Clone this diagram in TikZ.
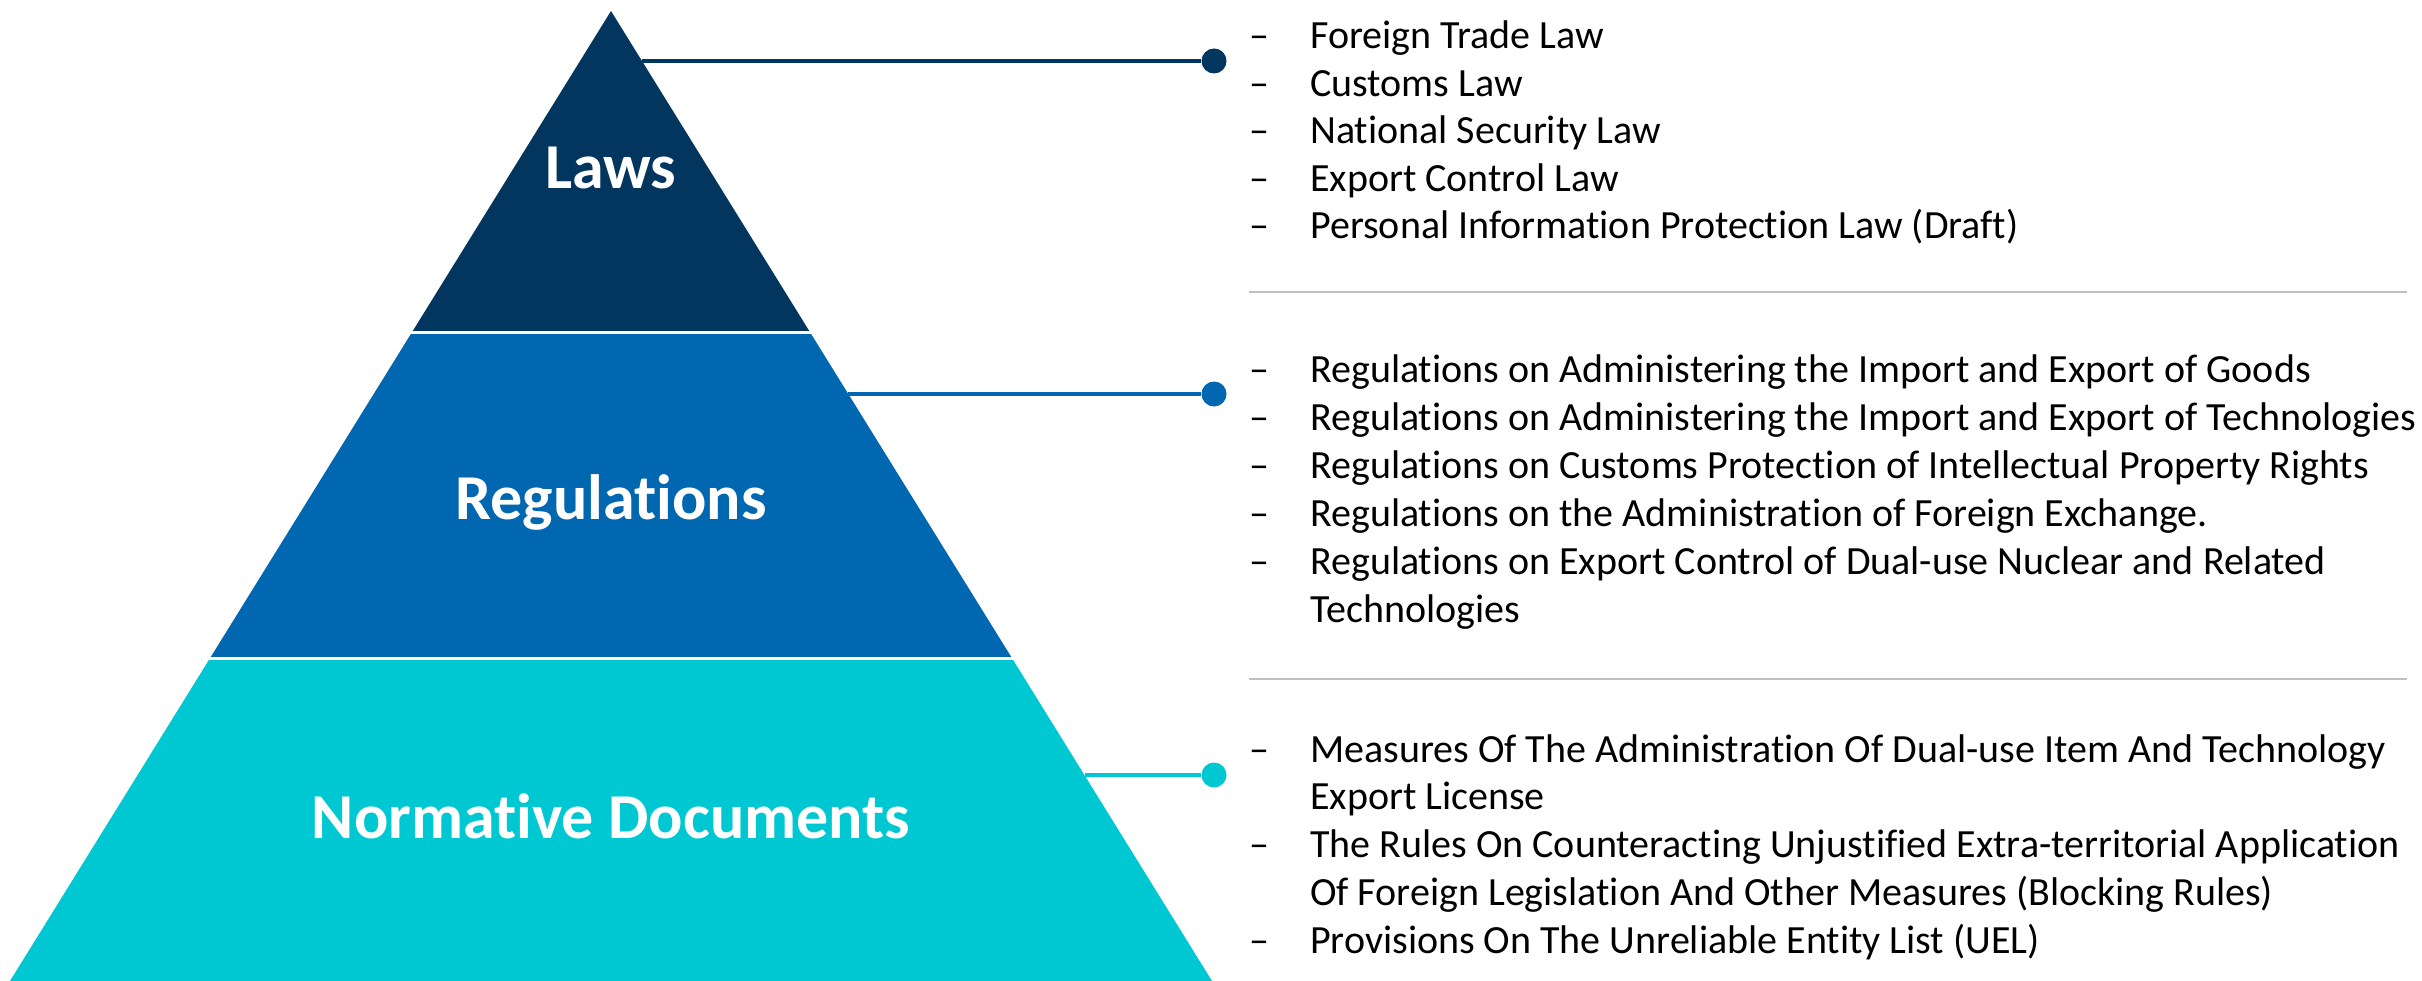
\documentclass[tikz,border=0pt]{standalone}
\usepackage{fontspec}
\setmainfont{Carlito}[Ligatures=NoCommon]
\definecolor{lawc}{HTML}{02365F}
\definecolor{regc}{HTML}{0067B0}
\definecolor{normc}{HTML}{00C8D3}
\definecolor{sepc}{HTML}{BFBFBF}
\begin{document}
\begin{tikzpicture}[x=1pt,y=-1pt,
  item/.style={anchor=base west, inner sep=0pt, font=\fontsize{40}{48}\selectfont},
  tier/.style={anchor=base, inner sep=0pt, text=white, font=\fontsize{64}{72}\selectfont\bfseries},
  conn/.style={line width=4.5pt},
  dot/.style={circle, inner sep=0pt, minimum size=25pt},
  sepline/.style={sepc, line width=2.5pt}]
\useasboundingbox (0,0) rectangle (2422,981);
\fill[white] (0,0) rectangle (2422,981);
% pyramid
\fill[lawc] (611,11) -- (810.2,332.5) -- (411.8,332.5) -- cycle;
\fill[regc] (411.8,332.5) -- (810.2,332.5) -- (1011.9,658) -- (210.1,658) -- cycle;
\fill[normc] (210.1,658) -- (1011.9,658) -- (1212,981) -- (10,981) -- cycle;
\draw[white, line width=3pt] (400,332.5) -- (822,332.5);
\draw[white, line width=3pt] (200,658) -- (1022,658);
\node[tier] (tLaws) at (611,189) {Laws};
\node[tier] (tRegs) at (611,519) {Regulations};
\node[tier] (tNorm) at (611,838) {Normative Documents};
% connectors
\coordinate (eL) at (642,61);
\coordinate (eR) at (848,394);
\coordinate (eN) at (1085,775);
\node[dot, fill=lawc] (dL) at (1214,61) {};
\node[dot, fill=regc] (dR) at (1214,394) {};
\node[dot, fill=normc] (dN) at (1214,775) {};
\draw[conn, lawc] (eL) -- (dL);
\draw[conn, regc] (eR) -- (dR);
\draw[conn, normc] (eN) -- (dN);
% separators
\coordinate (s1a) at (1249,292); \coordinate (s1b) at (2407,292);
\coordinate (s2a) at (1249,679); \coordinate (s2b) at (2407,679);
\draw[sepline] (s1a) -- (s1b);
\draw[sepline] (s2a) -- (s2b);
% Laws list
\node[item] (d1) at (1249,49) {–};   \node[item] (l1) at (1310,49) {Foreign Trade Law};
\node[item] (d2) at (1249,96.5) {–}; \node[item] (l2) at (1310,96.5) {Customs Law};
\node[item] (d3) at (1249,144) {–};  \node[item] (l3) at (1310,144) {National Security Law};
\node[item] (d4) at (1249,191.5) {–};\node[item] (l4) at (1310,191.5) {Export Control Law};
\node[item] (d5) at (1249,239) {–};  \node[item] (l5) at (1310,239) {Personal Information Protection Law (Draft)};
% Regulations list
\node[item] (d6) at (1249,382) {–};  \node[item] (r1) at (1310,382) {Regulations on Administering the Import and Export of Goods};
\node[item] (d7) at (1249,430) {–};  \node[item] (r2) at (1310,430) {Regulations on Administering the Import and Export of Technologies};
\node[item] (d8) at (1249,478) {–};  \node[item] (r3) at (1310,478) {Regulations on Customs Protection of Intellectual Property Rights};
\node[item] (d9) at (1249,526) {–};  \node[item] (r4) at (1310,526) {Regulations on the Administration of Foreign Exchange.};
\node[item] (d10) at (1249,574) {–}; \node[item] (r5) at (1310,574) {Regulations on Export Control of Dual-use Nuclear and Related};
\node[item] (r6) at (1310,622) {Technologies};
% Normative list
\node[item] (d11) at (1249,762) {–}; \node[item] (n1) at (1310,762) {Measures Of The Administration Of Dual-use Item And Technology};
\node[item] (n2) at (1310,809.5) {Export License};
\node[item] (d12) at (1249,857) {–}; \node[item] (n3) at (1310,857) {The Rules On Counteracting Unjustified Extra-territorial Application};
\node[item] (n4) at (1310,905) {Of Foreign Legislation And Other Measures (Blocking Rules)};
\node[item] (d13) at (1249,953) {–}; \node[item] (n5) at (1310,953) {Provisions On The Unreliable Entity List (UEL)};
\end{tikzpicture}
\end{document}
